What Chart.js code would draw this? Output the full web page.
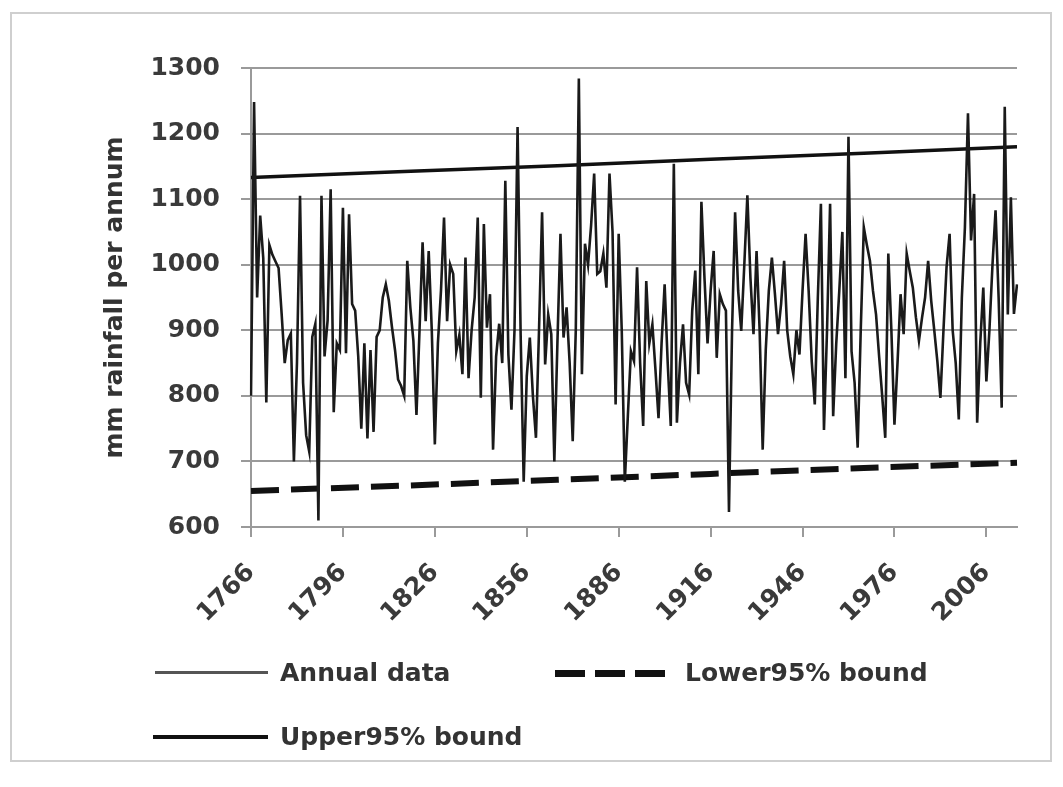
<!DOCTYPE html>
<html>
<head>
<meta charset="utf-8">
<script src="https://cdn.jsdelivr.net/npm/chart.js@4.4.1/dist/chart.umd.min.js"></script>
<style>
    html, body { margin: 0; padding: 0; background: #fff; }
    #wrap { position: relative; width: 1063px; height: 787px; overflow: hidden; }
    #frame { position: absolute; left: 10px; top: 12px; width: 1038px; height: 746px; border: 2px solid #cfcfcf; }
    #myChart { position: absolute; left: 0; top: 0; }
    .legText { position: absolute; font-family: 'DejaVu Sans'; font-weight: bold; font-size: 25px; color: #333; line-height: 30px; white-space: nowrap; }
    .legLine { position: absolute; }
</style>
</head>
<body>
<div id="wrap">
    <div id="frame"></div>
    <canvas id="myChart" width="1063" height="787"></canvas>
    <div class="legLine" style="left:155px; top:671px; width:113px; height:3px; background:#555;"></div>
    <div class="legText" style="left:280px; top:658px;">Annual data</div>
    <div class="legLine" style="left:555px; top:670px; width:110px; height:7px; background:repeating-linear-gradient(to right, #111 0 30px, transparent 30px 40px);"></div>
    <div class="legText" style="left:685px; top:658px;">Lower95% bound</div>
    <div class="legLine" style="left:153px; top:735px; width:115px; height:4px; background:#111;"></div>
    <div class="legText" style="left:280px; top:722px;">Upper95% bound</div>
</div>
<script>
const firstYear = 1766;
const lastYear = 2016;

// annual rainfall, mm, 1766..2016
const annual = [
    800, 1248, 950, 1075, 1010, 790, 1030, 1015, 1005, 995,
    925, 850, 885, 895, 700, 850, 1105, 820, 740, 715,
    890, 910, 610, 1105, 860, 915, 1115, 775, 880, 870,
    1087, 865, 1077, 940, 930, 860, 750, 880, 735, 870,
    745, 890, 900, 950, 970, 945, 905, 870, 825, 815,
    800, 1006, 935, 884, 771, 900, 1034, 914, 1021, 900,
    726, 880, 960, 1072, 914, 1000, 986, 868, 893, 833,
    1011, 827, 900, 950, 1072, 797, 1062, 904, 955, 718,
    860, 910, 850, 1128, 863, 779, 900, 1210, 894, 669,
    830, 889, 800, 736, 900, 1080, 848, 924, 894, 700,
    880, 1047, 889, 935, 850, 731, 900, 1284, 833, 1032,
    1000, 1060, 1139, 986, 990, 1017, 965, 1139, 1050, 787,
    1047, 900, 669, 770, 868, 853, 996, 850, 754, 975,
    880, 909, 840, 766, 880, 970, 850, 754, 1154, 759,
    850, 909, 820, 802, 930, 991, 833, 1096, 980, 880,
    960, 1021, 858, 955, 940, 930, 623, 900, 1080, 960,
    899, 1000, 1106, 980, 894, 1021, 900, 718, 870, 960,
    1011, 955, 894, 940, 1006, 900, 860, 833, 900, 863,
    960, 1047, 960, 853, 787, 950, 1093, 748, 900, 1093,
    769, 879, 960, 1050, 827, 1195, 868, 820, 721, 900,
    1057, 1030, 1006, 960, 924, 860, 800, 736, 1017, 900,
    756, 850, 955, 894, 1017, 990, 965, 920, 884, 919,
    950, 1006, 945, 900, 853, 797, 900, 996, 1047, 900,
    850, 764, 950, 1057, 1231, 1037, 1108, 759, 880, 965,
    822, 900, 1000, 1083, 950, 782, 1241, 924, 1103, 925,
    970
];

// bound lines, read at a few years
const boundYears = ['1766', '1816', '1866', '1916', '1966', '2016'];
const upperBound = [1133, 1142, 1151, 1161, 1170, 1180];
const lowerBound = [655, 663, 672, 681, 690, 698];

const tickYears = ['1766', '1796', '1826', '1856', '1886', '1916', '1946', '1976', '2006'];

const labels = [];
for (let y = firstYear; y <= lastYear; y++) labels.push(String(y));

const gridGrey = '#9a9a9a';
const textGrey = '#3a3a3a';

Chart.defaults.font.family = 'DejaVu Sans';

const data = {
    labels: labels,
    datasets: [
        {
            label: 'Annual data',
            data: annual,
            borderColor: '#1a1a1a',
            borderWidth: 2.6,
            pointRadius: 0,
            tension: 0
        },
        {
            label: 'Lower95% bound',
            data: boundYears.map((x, i) => ({ x: x, y: lowerBound[i] })),
            borderColor: '#111',
            borderWidth: 6,
            borderDash: [28, 12],
            pointRadius: 0,
            spanGaps: true
        },
        {
            label: 'Upper95% bound',
            data: boundYears.map((x, i) => ({ x: x, y: upperBound[i] })),
            borderColor: '#111',
            borderWidth: 3.5,
            pointRadius: 0,
            spanGaps: true
        }
    ]
};

const config = {
    type: 'line',
    data: data,
    options: {
        responsive: false,
        animation: false,
        devicePixelRatio: 1,
        layout: {
            padding: { left: 96, right: 46, top: 68, bottom: 150 }
        },
        scales: {
            x: {
                offset: false,
                grid: {
                    drawOnChartArea: false,
                    tickLength: 10,
                    lineWidth: 2,
                    tickColor: (ctx) => (ctx.tick && tickYears.includes(labels[ctx.tick.value]) ? gridGrey : 'transparent')
                },
                border: { display: true, color: gridGrey, width: 2 },
                ticks: {
                    autoSkip: false,
                    maxRotation: 45,
                    minRotation: 45,
                    padding: 21,
                    color: textGrey,
                    font: { size: 25, weight: 'bold' },
                    callback: function (value) {
                        const lab = this.getLabelForValue(value);
                        return tickYears.includes(lab) ? lab : '';
                    }
                },
                afterFit: (scale) => { scale.height = 110; }
            },
            y: {
                min: 600,
                max: 1300,
                grid: { color: gridGrey, lineWidth: 2, tickLength: 10 },
                border: { display: true, color: gridGrey, width: 2 },
                ticks: {
                    stepSize: 100,
                    padding: 21,
                    color: textGrey,
                    font: { size: 25, weight: 'bold' },
                    callback: (value) => String(value)
                },
                title: {
                    display: true,
                    text: 'mm rainfall per annum',
                    color: '#333',
                    font: { size: 25, weight: 'bold' },
                    padding: { top: 4, bottom: 4 }
                },
                afterFit: (scale) => { scale.width = 155; }
            }
        },
        plugins: {
            legend: { display: false },
            tooltip: { enabled: false }
        }
    }
};

const myChart = new Chart(
    document.getElementById('myChart'),
    config
);
</script>
</body>
</html>
